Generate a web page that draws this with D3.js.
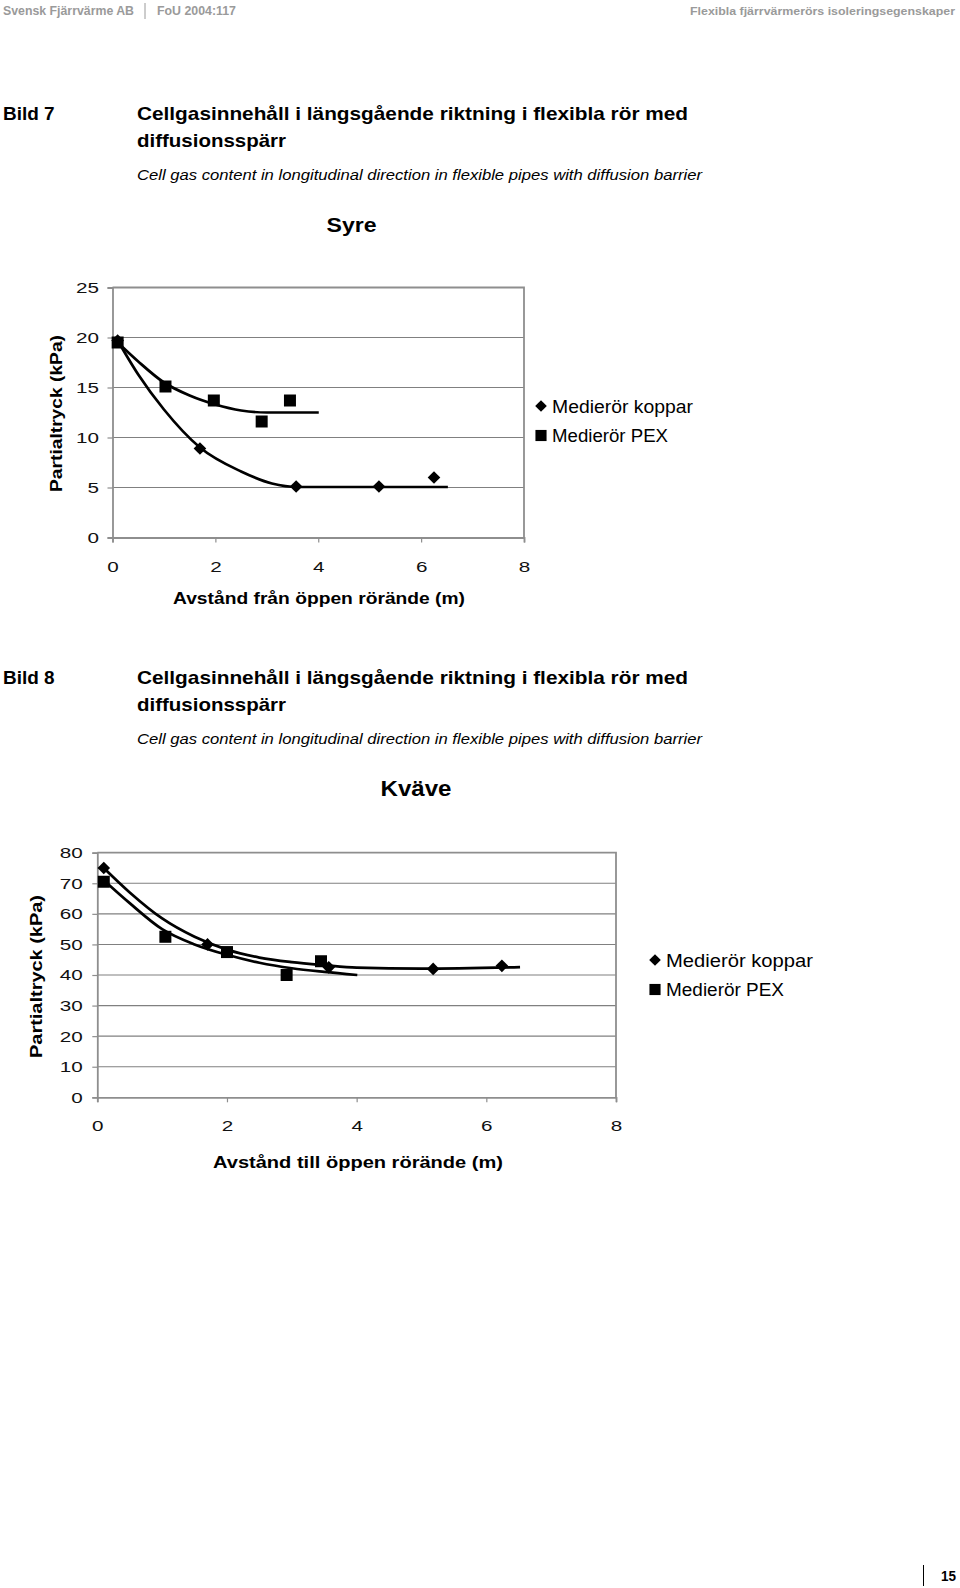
<!DOCTYPE html>
<html><head><meta charset="utf-8">
<script src="https://cdn.jsdelivr.net/npm/d3@7"></script>
<style>
body{margin:0;background:#fff}
svg{display:block}
text{font-family:"Liberation Sans",Arial,Helvetica,sans-serif}
</style>
</head><body>
<svg id="page" width="960" height="1588"></svg>
<script>
// ---------- DATA ----------
const xTicks = [0, 2, 4, 6, 8];

// Bild 7 – Syre
const syreYTicks = [0, 5, 10, 15, 20, 25];
const syreKopparX = [0.1, 1.7, 3.57, 5.18, 6.25];
const syreKopparY = [19.7, 8.9, 5.1, 5.1, 6.0];
const syrePexX = [0.1, 1.03, 1.97, 2.9, 3.45];
const syrePexY = [19.5, 15.1, 13.7, 11.6, 13.7];
const syreKopparTrendX = [0.1, 0.5, 1.0, 1.7, 2.5, 3.1, 3.6, 6.52];
const syreKopparTrendY = [19.7, 16.3, 12.8, 9.0, 6.6, 5.4, 5.05, 5.05];
const syrePexTrendX = [0.1, 0.5, 1.0, 1.5, 2.0, 2.5, 3.0, 4.01];
const syrePexTrendY = [19.5, 17.6, 15.5, 14.2, 13.3, 12.7, 12.5, 12.5];

// Bild 8 – Kväve
const kvaveYTicks = [0, 10, 20, 30, 40, 50, 60, 70, 80];
const kvaveKopparX = [0.1, 1.7, 3.57, 5.18, 6.24];
const kvaveKopparY = [75, 50, 42.5, 42, 43];
const kvavePexX = [0.1, 1.05, 2.0, 2.92, 3.45];
const kvavePexY = [70.5, 52.5, 47.5, 40, 44.5];
const kvaveKopparTrendX = [0.1, 0.5, 1.0, 1.5, 2.0, 2.5, 3.0, 3.5, 4.0, 5.0, 6.52];
const kvaveKopparTrendY = [75, 67, 58.5, 52.5, 48.3, 45.7, 44.2, 43.2, 42.4, 42.1, 42.6];
const kvavePexTrendX = [0.1, 0.5, 1.0, 1.5, 2.0, 2.5, 3.0, 3.5, 4.01];
const kvavePexTrendY = [71, 63.5, 55, 50, 46.6, 44, 42.2, 41, 40];

const seriesNames = ["Medierör koppar", "Medierör PEX"];

// ---------- PAGE ----------
const svg = d3.select("#page");
function txt(x, y, s, o) {
  const t = svg.append("text").attr("x", x).attr("y", y).text(s)
    .attr("font-size", o.size).attr("fill", o.fill || "#000");
  if (o.bold) t.attr("font-weight", "bold");
  if (o.italic) t.attr("font-style", "italic");
  if (o.len) t.attr("textLength", o.len).attr("lengthAdjust", "spacingAndGlyphs");
  if (o.anchor) t.attr("text-anchor", o.anchor);
  return t;
}

// header
txt(3, 15, "Svensk Fjärrvärme AB", {size: 12.5, bold: true, fill: "#9a9a9a", len: 131});
svg.append("line").attr("x1", 145).attr("x2", 145).attr("y1", 3).attr("y2", 19).attr("stroke", "#9a9a9a");
txt(157, 15, "FoU 2004:117", {size: 12.5, bold: true, fill: "#9a9a9a", len: 79});
txt(690, 15, "Flexibla fjärrvärmerörs isoleringsegenskaper", {size: 11.5, bold: true, fill: "#9a9a9a", len: 265});

// section headings
function heading(num, dy) {
  txt(3, 120 + dy, "Bild " + num, {size: 18.5, bold: true, len: 51.6});
  txt(137, 120 + dy, "Cellgasinnehåll i längsgående riktning i flexibla rör med", {size: 18.5, bold: true, len: 551});
  txt(137, 146.5 + dy, "diffusionsspärr", {size: 18.5, bold: true, len: 149});
  txt(137, 180 + dy, "Cell gas content in longitudinal direction in flexible pipes with diffusion barrier", {size: 15, italic: true, len: 565});
}
heading(7, 0);
heading(8, 564);

// page number
svg.append("line").attr("x1", 923.5).attr("x2", 923.5).attr("y1", 1565).attr("y2", 1586).attr("stroke", "#000");
txt(941, 1581, "15", {size: 14, bold: true, len: 15});

// ---------- CHARTS ----------
function zip(xs, ys) { return xs.map((x, i) => ({x: x, y: ys[i]})); }

function chart(c) {
  const x = d3.scaleLinear().domain([0, 8]).range([c.left, c.right]);
  const y = d3.scaleLinear().domain([0, c.ymax]).range([c.bottom, c.top]);
  const g = svg.append("g");

  // gridlines
  g.append("g").selectAll("line").data(c.yTicks.filter(t => t > 0 && t < c.ymax)).join("line")
    .attr("x1", x(0)).attr("x2", x(8)).attr("y1", d => y(d)).attr("y2", d => y(d))
    .attr("stroke", "#808080").attr("stroke-width", 1.1);

  // frame (top & right)
  g.append("path").attr("d", `M${x(0)},${y(c.ymax)}H${x(8)}V${y(0)}`)
    .attr("fill", "none").attr("stroke", "#8e8e8e").attr("stroke-width", 1.8);

  // axes
  const ya = g.append("g").attr("transform", `translate(${x(0)},0)`)
    .call(d3.axisLeft(y).tickValues(c.yTicks).tickSize(5).tickPadding(c.ypad));
  const xa = g.append("g").attr("transform", `translate(0,${y(0)})`)
    .call(d3.axisBottom(x).tickValues(xTicks).tickSize(5).tickPadding(18));
  [ya, xa].forEach(a => {
    a.select(".domain").attr("stroke", "#8e8e8e").attr("stroke-width", 1.8);
    a.selectAll(".tick line").attr("stroke", "#8e8e8e").attr("stroke-width", 1.2);
    a.selectAll(".tick text").attr("font-size", 15.5).attr("fill", "#111")
      .attr("font-family", "'Liberation Sans',Arial,sans-serif")
      .attr("textLength", d => String(d).length * 11.5)
      .attr("lengthAdjust", "spacingAndGlyphs");
  });

  // trend lines
  const line = d3.line().x(d => x(d.x)).y(d => y(d.y)).curve(d3.curveMonotoneX);
  [c.kTrend, c.pTrend].forEach(tr => {
    g.append("path").datum(tr).attr("d", line)
      .attr("fill", "none").attr("stroke", "#000").attr("stroke-width", 2.7);
  });

  // markers
  const diamond = d3.symbol(d3.symbolSquare, 80)();
  const square = d3.symbol(d3.symbolSquare, 144)();
  g.append("g").selectAll("path").data(c.pPts).join("path")
    .attr("d", square).attr("fill", "#000")
    .attr("transform", d => `translate(${x(d.x)},${y(d.y)})`);
  g.append("g").selectAll("path").data(c.kPts).join("path")
    .attr("d", diamond).attr("fill", "#000")
    .attr("transform", d => `translate(${x(d.x)},${y(d.y)}) rotate(45)`);

  // titles
  txt(c.titleX, c.titleY, c.title, {size: c.titleSize, bold: true, anchor: "middle", len: c.titleLen});
  txt(c.xtX, c.xtY, c.xTitle, {size: 16.5, bold: true, anchor: "middle", len: c.xtLen});
  svg.append("text").attr("transform", `translate(${c.ytX},${c.ytY}) rotate(-90)`)
    .attr("text-anchor", "middle").attr("font-size", 17).attr("font-weight", "bold")
    .attr("textLength", c.ytLen).attr("lengthAdjust", "spacingAndGlyphs")
    .text("Partialtryck (kPa)");

  // legend
  const lg = svg.append("g");
  lg.append("path").attr("d", d3.symbol(d3.symbolSquare, 68)())
    .attr("transform", `translate(${c.legX},${c.legY}) rotate(45)`).attr("fill", "#000");
  lg.append("path").attr("d", d3.symbol(d3.symbolSquare, 124)())
    .attr("transform", `translate(${c.legX},${c.legY + 29.5})`).attr("fill", "#000");
  txt(c.legX + 11, c.legY + 6.5, seriesNames[0], {size: 17.5, len: c.legLen[0]});
  txt(c.legX + 11, c.legY + 36, seriesNames[1], {size: 17.5, len: c.legLen[1]});
}

chart({
  left: 112.5, right: 524, top: 287.5, bottom: 537.5, ymax: 25, yTicks: syreYTicks, ypad: 8.5,
  kPts: zip(syreKopparX, syreKopparY), pPts: zip(syrePexX, syrePexY),
  kTrend: zip(syreKopparTrendX, syreKopparTrendY), pTrend: zip(syrePexTrendX, syrePexTrendY),
  title: "Syre", titleX: 351.5, titleY: 231.5, titleSize: 21, titleLen: 50,
  xTitle: "Avstånd från öppen rörände (m)", xtX: 319, xtY: 604, xtLen: 292,
  ytX: 61.5, ytY: 413.5, ytLen: 157,
  legX: 541, legY: 406, legLen: [141, 116]
});

chart({
  left: 97.3, right: 616, top: 852.7, bottom: 1097.3, ymax: 80, yTicks: kvaveYTicks, ypad: 9.5,
  kPts: zip(kvaveKopparX, kvaveKopparY), pPts: zip(kvavePexX, kvavePexY),
  kTrend: zip(kvaveKopparTrendX, kvaveKopparTrendY), pTrend: zip(kvavePexTrendX, kvavePexTrendY),
  title: "Kväve", titleX: 416, titleY: 796, titleSize: 22, titleLen: 71,
  xTitle: "Avstånd till öppen rörände (m)", xtX: 358, xtY: 1168, xtLen: 290,
  ytX: 41.5, ytY: 976.5, ytLen: 163,
  legX: 655, legY: 960, legLen: [147, 118]
});
</script>
</body></html>
